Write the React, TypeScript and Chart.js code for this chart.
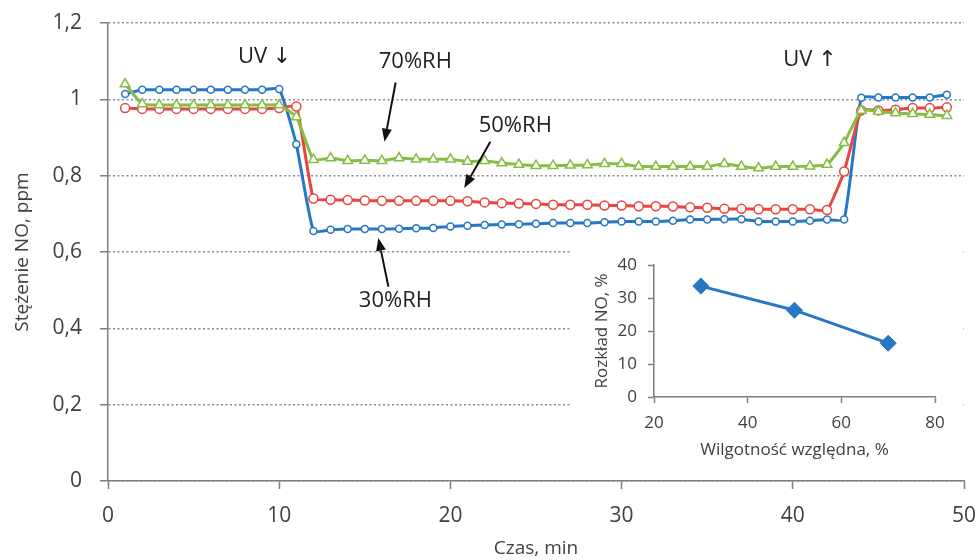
import React, { useEffect, useRef } from "react";
import { Chart, registerables } from "chart.js";

Chart.register(...registerables);

// ---- data ----
const timeMin = [
  1, 2, 3, 4, 5, 6, 7, 8, 9, 10, 11, 12, 13, 14, 15, 16, 17, 18, 19, 20, 21, 22, 23, 24, 25,
  26, 27, 28, 29, 30, 31, 32, 33, 34, 35, 36, 37, 38, 39, 40, 41, 42, 43, 44, 45, 46, 47, 48, 49,
];
const rh30 = [
  1.014, 1.025, 1.025, 1.025, 1.025, 1.025, 1.025, 1.025, 1.025, 1.027, 0.882, 0.655, 0.658,
  0.66, 0.66, 0.66, 0.661, 0.662, 0.663, 0.667, 0.669, 0.671, 0.672, 0.673, 0.674, 0.676, 0.676,
  0.676, 0.678, 0.68, 0.68, 0.68, 0.682, 0.685, 0.685, 0.686, 0.686, 0.68, 0.68, 0.68, 0.682,
  0.685, 0.685, 1.004, 1.005, 1.005, 1.005, 1.005, 1.012,
];
const rh50 = [
  0.977, 0.975, 0.975, 0.975, 0.975, 0.975, 0.975, 0.975, 0.975, 0.977, 0.981, 0.74, 0.737,
  0.736, 0.735, 0.734, 0.734, 0.734, 0.734, 0.734, 0.733, 0.73, 0.728, 0.727, 0.726, 0.724,
  0.724, 0.724, 0.722, 0.722, 0.72, 0.72, 0.719, 0.717, 0.716, 0.713, 0.713, 0.712, 0.712, 0.712,
  0.712, 0.71, 0.811, 0.971, 0.971, 0.973, 0.977, 0.977, 0.979,
];
const rh70 = [
  1.04, 0.988, 0.985, 0.985, 0.985, 0.985, 0.985, 0.985, 0.985, 0.985, 0.954, 0.842, 0.846,
  0.839, 0.84, 0.839, 0.846, 0.843, 0.843, 0.843, 0.837, 0.839, 0.833, 0.829, 0.826, 0.826,
  0.827, 0.828, 0.831, 0.831, 0.824, 0.824, 0.824, 0.824, 0.824, 0.831, 0.824, 0.82, 0.824,
  0.824, 0.825, 0.829, 0.886, 0.971, 0.968, 0.964, 0.962, 0.96, 0.957,
];

const insetRH = [30, 50, 70];
const insetDecomposition = [33.6, 26.3, 16.3];

// annotation texts in data coordinates
const noteTexts = ["UV ↓", "UV ↑", "70%RH", "50%RH", "30%RH"];
const noteX = [9.15, 41.0, 17.95, 23.79, 16.79];
const noteY = [1.112, 1.104, 1.099, 0.931, 0.472];
// arrows (from -> tip) in data coordinates
const arrowFromX = [16.8, 22.33, 16.38];
const arrowFromY = [1.044, 0.889, 0.509];
const arrowToX = [16.15, 20.81, 15.79];
const arrowToY = [0.889, 0.768, 0.637];

const FONT = "'Open Sans', 'DejaVu Sans', sans-serif";
const TEXT = "#404040";
const AXIS = "#7f7f7f";
const BLUE = "#2677c6";
const RED = "#e8453f";
const GREEN = "#86bd45";

const fmtComma = (v: number) => String(Math.round(v * 10) / 10).replace(".", ",");

const pts = (ys: number[]) => timeMin.map((t, i) => ({ x: t, y: ys[i] }));

const fixW = (w: number) => (s: any) => {
  s.width = w;
  s.paddingTop = 0;
  s.paddingBottom = 0;
};
const fixH = (h: number) => (s: any) => {
  s.height = h;
  s.paddingLeft = 0;
  s.paddingRight = 0;
};

const annotationPlugin = {
  id: "notes",
  afterDatasetsDraw(chart: any) {
    const { ctx, scales } = chart;
    const xs = scales.x;
    const ys = scales.y;
    ctx.save();
    ctx.fillStyle = "#222";
    ctx.font = `22px ${FONT}`;
    ctx.textAlign = "center";
    ctx.textBaseline = "middle";
    noteTexts.forEach((t, i) => {
      ctx.fillText(t, xs.getPixelForValue(noteX[i]), ys.getPixelForValue(noteY[i]));
    });
    ctx.strokeStyle = "#111";
    ctx.fillStyle = "#111";
    ctx.lineWidth = 2;
    arrowFromX.forEach((_, i) => {
      const x1 = xs.getPixelForValue(arrowFromX[i]);
      const y1 = ys.getPixelForValue(arrowFromY[i]);
      const x2 = xs.getPixelForValue(arrowToX[i]);
      const y2 = ys.getPixelForValue(arrowToY[i]);
      const ang = Math.atan2(y2 - y1, x2 - x1);
      const head = 13;
      const hw = 5;
      const bx = x2 - head * Math.cos(ang);
      const by = y2 - head * Math.sin(ang);
      ctx.beginPath();
      ctx.moveTo(x1, y1);
      ctx.lineTo(bx, by);
      ctx.stroke();
      ctx.beginPath();
      ctx.moveTo(x2, y2);
      ctx.lineTo(bx + hw * Math.sin(ang), by - hw * Math.cos(ang));
      ctx.lineTo(bx - hw * Math.sin(ang), by + hw * Math.cos(ang));
      ctx.closePath();
      ctx.fill();
    });
    ctx.restore();
  },
};

const whiteBg = {
  id: "whiteBg",
  beforeDraw(chart: any) {
    const { ctx, width, height } = chart;
    ctx.save();
    ctx.fillStyle = "#ffffff";
    ctx.fillRect(0, 0, width, height);
    ctx.restore();
  },
};

export default function App() {
  const mainRef = useRef<HTMLCanvasElement>(null);
  const insetRef = useRef<HTMLCanvasElement>(null);

  useEffect(() => {
    const font21 = { family: FONT, size: 21 };
    const font19 = { family: FONT, size: 19 };
    const main = new Chart(mainRef.current!, {
      type: "scatter",
      data: {
        datasets: [
          {
            label: "70%RH",
            data: pts(rh70),
            showLine: true,
            borderColor: GREEN,
            borderWidth: 3,
            pointStyle: "triangle",
            pointRadius: 5.5,
            pointBorderWidth: 1.5,
            pointBackgroundColor: "#fff",
            pointBorderColor: GREEN,
            tension: 0.15,
            order: 0,
          },
          {
            label: "50%RH",
            data: pts(rh50),
            showLine: true,
            borderColor: RED,
            borderWidth: 3,
            pointStyle: "circle",
            pointRadius: 4.5,
            pointBorderWidth: 1.5,
            pointBackgroundColor: "#fff",
            pointBorderColor: RED,
            tension: 0.15,
            order: 1,
          },
          {
            label: "30%RH",
            data: pts(rh30),
            showLine: true,
            borderColor: BLUE,
            borderWidth: 3,
            pointStyle: "circle",
            pointRadius: 3.5,
            pointBorderWidth: 1.5,
            pointBackgroundColor: "#fff",
            pointBorderColor: BLUE,
            tension: 0.15,
            order: 2,
          },
        ],
      },
      options: {
        animation: false,
        responsive: false,
        maintainAspectRatio: false,
        layout: { padding: { left: 0, right: 16, top: 23, bottom: 0 } },
        plugins: { legend: { display: false }, tooltip: { enabled: false } },
        scales: {
          x: {
            type: "linear",
            min: 0,
            max: 50,
            ticks: { stepSize: 10, font: font21, color: TEXT, padding: 14 },
            grid: {
              drawOnChartArea: false,
              drawTicks: true,
              tickLength: 8,
              tickColor: AXIS,
              tickWidth: 1.5,
            },
            border: { color: AXIS, width: 1.5 },
            title: { display: true, text: "Czas, min", font: font19, color: TEXT, padding: 0 },
            afterFit: fixH(79),
          },
          y: {
            type: "linear",
            min: 0,
            max: 1.2,
            ticks: {
              stepSize: 0.2,
              font: font21,
              color: TEXT,
              padding: 18,
              callback: (v: any) => fmtComma(Number(v)),
            },
            grid: {
              color: "#8c8c8c",
              lineWidth: 1.5,
              tickBorderDash: [],
              tickColor: AXIS,
              tickWidth: 1.5,
              tickLength: 8,
            },
            border: { color: AXIS, width: 1.5, dash: [2, 2.5] },
            title: {
              display: true,
              text: "Stężenie NO, ppm",
              font: font19,
              color: TEXT,
              padding: { top: 11, bottom: 0 },
            },
            afterFit: fixW(108),
          },
        },
      },
      plugins: [annotationPlugin],
    });

    const font17 = { family: FONT, size: 17 };
    const inset = new Chart(insetRef.current!, {
      type: "scatter",
      data: {
        datasets: [
          {
            data: insetRH.map((x, i) => ({ x, y: insetDecomposition[i] })),
            showLine: true,
            borderColor: BLUE,
            borderWidth: 3,
            pointStyle: "rectRot",
            pointRadius: 8,
            pointBackgroundColor: BLUE,
            pointBorderColor: BLUE,
            pointBorderWidth: 1,
          },
        ],
      },
      options: {
        animation: false,
        responsive: false,
        maintainAspectRatio: false,
        layout: { padding: { left: 0, right: 27, top: 20, bottom: 0 } },
        plugins: { legend: { display: false }, tooltip: { enabled: false } },
        scales: {
          x: {
            type: "linear",
            min: 20,
            max: 80,
            ticks: { stepSize: 20, font: font17, color: TEXT, padding: 10 },
            grid: { drawOnChartArea: false, tickLength: 6, tickColor: AXIS, tickWidth: 1.5 },
            border: { color: AXIS, width: 1.5 },
            title: {
              display: true,
              text: "Wilgotność względna, %",
              font: font17,
              color: TEXT,
              padding: { top: 0, bottom: 7 },
            },
            afterFit: fixH(70),
          },
          y: {
            type: "linear",
            min: 0,
            max: 40,
            ticks: { stepSize: 10, font: font17, color: TEXT, padding: 11 },
            grid: { drawOnChartArea: false, tickLength: 6, tickColor: AXIS, tickWidth: 1.5 },
            border: { color: AXIS, width: 1.5 },
            title: {
              display: true,
              text: "Rozkład NO, %",
              font: font17,
              color: TEXT,
              padding: { top: 22, bottom: 0 },
            },
            afterFit: fixW(84),
          },
        },
      },
      plugins: [whiteBg],
    });

    return () => {
      main.destroy();
      inset.destroy();
    };
  }, []);

  return (
    <div style={{ position: "fixed", left: 0, top: 0, width: 980, height: 560, background: "#fff" }}>
      <canvas
        ref={mainRef}
        width={980}
        height={560}
        style={{ position: "absolute", left: 0, top: 0, width: 980, height: 560 }}
      />
      <canvas
        ref={insetRef}
        width={392}
        height={222}
        style={{ position: "absolute", left: 570, top: 245, width: 392, height: 222 }}
      />
    </div>
  );
}
